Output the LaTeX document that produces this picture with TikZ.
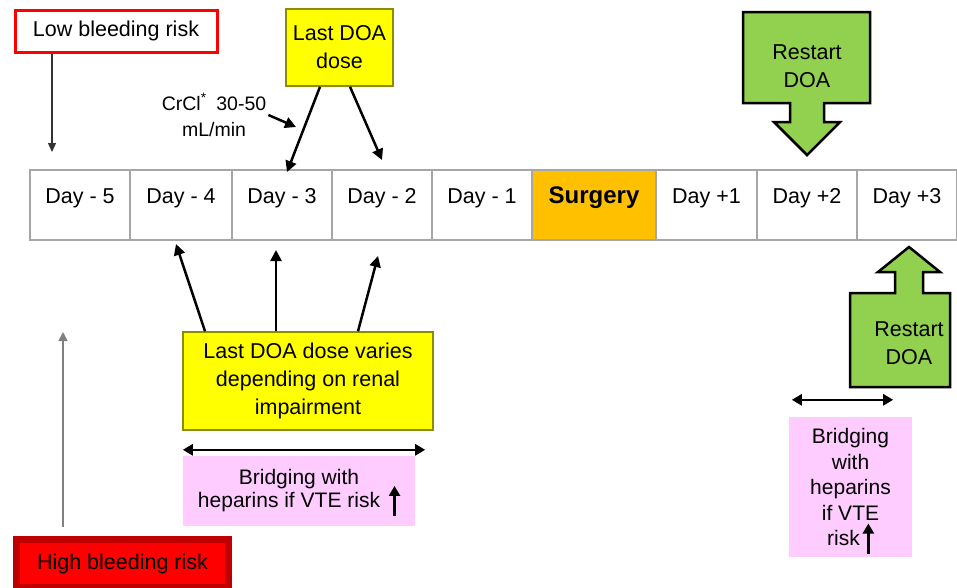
\documentclass[tikz,border=0pt]{standalone}
\usepackage{fontspec}
\setmainfont{Liberation Sans}
\usetikzlibrary{arrows.meta}
\definecolor{doayellow}{HTML}{FFFF00}
\definecolor{doagreen}{HTML}{92D050}
\definecolor{bridgepink}{HTML}{FFCCFF}
\definecolor{surgorange}{HTML}{FFC000}
\definecolor{highred}{HTML}{FF0000}
\definecolor{highedge}{HTML}{C00000}
\newcommand{\riskup}{\smash{\tikz[baseline=0pt]\draw[line width=3pt,-{Triangle[length=10pt,width=11pt]}] (0pt,-8pt) -- (0pt,22pt);}}

\begin{document}
\begin{tikzpicture}[x=1pt,y=-1pt,
    every node/.style={font=\fontsize{21.5}{28}\selectfont, align=center, inner sep=0pt},
    day/.style={draw=gray!70, line width=1.5pt, minimum width=#1, text height=33pt, text depth=37pt, outer sep=0pt},
    yellowbox/.style={draw=black!45!doayellow, line width=1.5pt, fill=doayellow},
    pinkbox/.style={fill=bridgepink},
    greenshape/.style={draw=black, line width=2.5pt, fill=doagreen, line join=miter},
    doa/.style={line width=2.5pt, -{Triangle[length=11pt,width=11pt]}},
    span/.style={line width=2.5pt, {Triangle[length=10pt,width=11pt]}-{Triangle[length=10pt,width=11pt]}},
    pointer/.style={draw=black!80, line width=1.2pt, -{Triangle[length=9pt,width=8pt]}},
    grayarr/.style={draw=gray, line width=1.5pt, -{Triangle[length=9pt,width=9pt]}}]
    \useasboundingbox (0,0) rectangle (957,587);
    \path (80,205) node[day=100pt](d5){Day - 5}
        ++(101,0) node[day=102pt](d4){Day - 4}
        ++(101,0) node[day=100pt](d3){Day - 3}
        ++(100,0) node[day=100pt](d2){Day - 2}
        ++(100,0) node[day=100pt](d1){Day - 1}
        ++(112,0) node[day=124pt, fill=surgorange, font=\fontsize{24}{28}\selectfont\bfseries](surg){Surgery}
        ++(112.5,0) node[day=101pt](p1){Day +1}
        ++(100.5,0) node[day=100pt](p2){Day +2}
        ++(100,0) node[day=100pt](p3){Day +3};
    \node[draw=highred, line width=3pt, fill=white, minimum width=202pt, minimum height=42pt] (low) at (116,31) {Low bleeding risk};
    \node[yellowbox, minimum width=107pt, minimum height=77pt] (last) at (339.5,47.5) {Last DOA\\dose};
    \node[font=\fontsize{19.5}{26}\selectfont] (crcl) at (214,115) {CrCl\textsuperscript{*}\enspace 30-50\\mL/min};
    \node[yellowbox, minimum width=250pt, minimum height=98pt] (varies) at (308,381) {Last DOA dose varies\\depending on renal\\impairment};
    \node[pinkbox, font=\fontsize{21}{23}\selectfont, minimum width=232pt, minimum height=70pt] (bridgeL) at (299,491) {Bridging with\\heparins if VTE risk\hspace{9pt}\riskup};
    \node[pinkbox, font=\fontsize{21}{25.5}\selectfont, minimum width=123pt, minimum height=140pt] (bridgeR) at (850.5,487) {Bridging\\with\\heparins\\if VTE\\risk\hspace{3pt}\riskup};
    \node[draw=highedge, line width=7pt, fill=highred, minimum width=212pt, minimum height=48pt] (high) at (122.5,563.5) {High bleeding risk};
    \draw[greenshape] (743,12) -- (870,12) -- (870,103) -- (824,103) -- (824,122) -- (840,122) -- (807,155)
        -- (774,122) -- (790,122) -- (790,103) -- (743,103) -- cycle;
    \node (restart1) at (807,66) {Restart\\DOA};
    \draw[greenshape] (850,387) -- (850,293) -- (895,293) -- (895,272) -- (878,272) -- (909,247)
        -- (940,272) -- (923,272) -- (923,293) -- (950,293) -- (950,387) -- cycle;
    \node (restart2) at (909,343) {Restart\\DOA};
    \coordinate (lowend) at (52,152);
    \coordinate (crtip) at (296,127);
    \coordinate (hightip) at (63,332);
    \draw[pointer] (low.south -| lowend) -- (lowend);
    \draw[doa] ([xshift=-19.5pt]last.south) -- ([xshift=5pt,yshift=-2pt]d3.north);
    \draw[doa] ([xshift=10.5pt]last.south) -- ([yshift=10pt]d2.north);
    \draw[doa] ([xshift=2pt]crcl.east) -- (crtip);
    \draw[doa] ([xshift=-103pt]varies.north) -- ([xshift=-5pt,yshift=-4pt]d4.south);
    \draw[doa] ([xshift=-32pt]varies.north) -- ([xshift=-6pt,yshift=-10pt]d3.south);
    \draw[doa] ([xshift=50pt]varies.north) -- ([xshift=-4pt,yshift=-16pt]d2.south);
    \draw[span] ([yshift=6pt]bridgeL.north west) -- ([xshift=10pt,yshift=6pt]bridgeL.north east);
    \draw[span] ([xshift=3pt,yshift=17pt]bridgeR.north west) -- ([xshift=-19pt,yshift=17pt]bridgeR.north east);
    \draw[grayarr] (hightip |- high.north) ++(0,-9) -- (hightip);
\end{tikzpicture}
\end{document}
